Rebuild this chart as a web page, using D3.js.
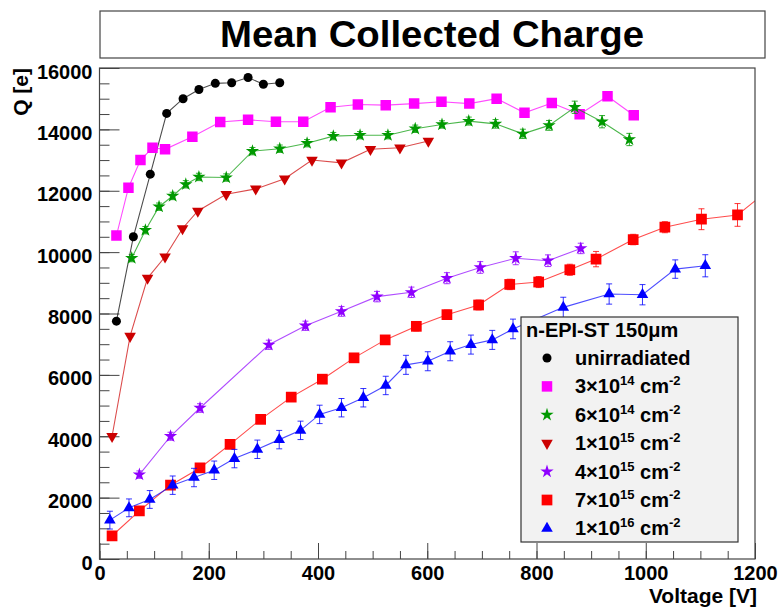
<!DOCTYPE html>
<html lang="en">
<head>
  <meta charset="UTF-8">
  <title>Mean Collected Charge</title>
  <style>
    body { margin: 0; background: #fff; }
    text { font-family: "Liberation Sans", Arial, sans-serif; font-weight: bold; fill: #000; }
  </style>
</head>
<body>
  <script src="https://d3js.org/d3.v7.min.js"></script>
  <script>
    // Data (voltage in V, charge in electrons)
    const voltUnirr = [31, 62, 93, 123, 153, 182, 212, 242, 272, 300, 330];
    const qUnirr = [7750, 10500, 12540, 14520, 15000, 15300, 15500, 15520, 15690, 15470, 15520];

    const volt3e14 = [31, 53, 75, 97, 120, 170, 221, 272, 323, 373, 423, 473, 524, 576, 626, 677, 727, 778, 828, 879, 930, 978];
    const q3e14 = [10540, 12100, 13000, 13400, 13350, 13760, 14240, 14310, 14250, 14250, 14720, 14810, 14790, 14840, 14900, 14840, 15000, 14540, 14860, 14490, 15080, 14460];
    const err3e14 = [100, 100, 100, 100, 100, 100, 100, 100, 100, 100, 100, 100, 100, 100, 100, 100, 100, 100, 100, 120, 120, 120];

    const volt6e14 = [59, 84, 109, 134, 158, 182, 232, 280, 330, 380, 428, 477, 528, 578, 627, 676, 725, 775, 823, 870, 920, 970];
    const q6e14 = [9805, 10715, 11480, 11830, 12210, 12450, 12430, 13290, 13370, 13550, 13780, 13810, 13810, 14020, 14160, 14270, 14180, 13855, 14130, 14720, 14250, 13670];
    const err6e14 = [120, 120, 120, 120, 120, 120, 120, 120, 120, 120, 120, 120, 120, 120, 120, 130, 140, 150, 160, 200, 200, 200];

    const volt1e15 = [23, 56, 88, 120, 152, 180, 232, 286, 339, 389, 443, 496, 550, 602];
    const q1e15 = [4000, 7260, 9155, 9850, 10770, 11340, 11885, 12060, 12390, 13000, 12910, 13350, 13400, 13620];

    const volt4e15 = [73, 130, 184, 310, 377, 443, 508, 571, 636, 697, 762, 821, 881];
    const q4e15 = [2750, 4000, 4920, 6980, 7600, 8070, 8550, 8690, 9150, 9500, 9800, 9720, 10120];
    const err4e15 = [120, 130, 140, 150, 150, 160, 170, 170, 180, 190, 210, 190, 170];

    const volt7e15 = [23, 73, 130, 184, 239, 295, 351, 408, 466, 523, 580, 636, 694, 751, 804, 861, 909, 977, 1035, 1102, 1168, 1230];
    const q7e15 = [757, 1570, 2405, 2967, 3737, 4550, 5275, 5860, 6555, 7140, 7582, 7962, 8277, 8947, 9025, 9425, 9772, 10410, 10812, 11072, 11212, 12100];
    const err7e15 = [100, 100, 110, 110, 120, 120, 130, 130, 140, 140, 150, 150, 160, 170, 180, 180, 250, 170, 180, 340, 370, 380];

    const volt1e16 = [19, 54, 92, 134, 173, 210, 247, 289, 329, 368, 403, 443, 483, 524, 561, 601, 642, 680, 719, 757, 849, 933, 994, 1054, 1109];
    const q1e16 = [1267, 1667, 1940, 2405, 2655, 2892, 3272, 3575, 3890, 4192, 4712, 4930, 5255, 5655, 6327, 6444, 6770, 6987, 7140, 7497, 8200, 8635, 8612, 9447, 9555];
    const err1e16 = [290, 290, 290, 300, 300, 300, 300, 300, 300, 300, 300, 300, 300, 300, 310, 310, 310, 310, 310, 320, 330, 330, 330, 300, 360];

    const legendTitle = "n-EPI-ST 150\u03bcm";
    const xTicks = [0, 200, 400, 600, 800, 1000, 1200];
    const yTicks = [0, 2000, 4000, 6000, 8000, 10000, 12000, 14000, 16000];

    // Series table built from the arrays above
    const series = [
      { name: "unirradiated", base: null, exp: null, v: voltUnirr, q: qUnirr, e: null, color: "#000000", shape: d3.symbolCircle, size: 64, rot: 0 },
      { name: null, base: "3\u00d710", exp: "14", v: volt3e14, q: q3e14, e: err3e14, color: "#ff00ff", shape: d3.symbolSquare, size: 110, rot: 0 },
      { name: null, base: "6\u00d710", exp: "14", v: volt6e14, q: q6e14, e: err6e14, color: "#009900", shape: d3.symbolStar, size: 55, rot: 0 },
      { name: null, base: "1\u00d710", exp: "15", v: volt1e15, q: q1e15, e: null, color: "#cc0000", shape: d3.symbolTriangle, size: 58, rot: 180 },
      { name: null, base: "4\u00d710", exp: "15", v: volt4e15, q: q4e15, e: err4e15, color: "#8f00ff", shape: d3.symbolStar, size: 55, rot: 0 },
      { name: null, base: "7\u00d710", exp: "15", v: volt7e15, q: q7e15, e: err7e15, color: "#ff0000", shape: d3.symbolSquare, size: 115, rot: 0 },
      { name: null, base: "1\u00d710", exp: "16", v: volt1e16, q: q1e16, e: err1e16, color: "#0000ff", shape: d3.symbolTriangle, size: 58, rot: 0 }
    ];

    let svgWidth = 781;
    let svgHeight = 609;
    let frame = { left: 99.5, right: 755, top: 68, bottom: 559 };

    let svg = d3.select("body")
      .append("svg")
      .attr("width", svgWidth)
      .attr("height", svgHeight);

    let x = d3.scaleLinear().domain([0, 1200]).range([frame.left, frame.right]);
    let y = d3.scaleLinear().domain([0, 16000]).range([frame.bottom, frame.top]);

    // Title box
    svg.append("rect")
      .attr("x", 100).attr("y", 11)
      .attr("width", 665).attr("height", 47)
      .attr("fill", "#fff").attr("stroke", "#444").attr("stroke-width", 1.2);
    svg.append("text")
      .attr("x", 432).attr("y", 47)
      .attr("text-anchor", "middle")
      .style("font-size", "36px")
      .attr("textLength", 424)
      .attr("lengthAdjust", "spacingAndGlyphs")
      .text("Mean Collected Charge");

    // Clip to frame
    svg.append("clipPath").attr("id", "frameClip")
      .append("rect")
      .attr("x", frame.left).attr("y", frame.top)
      .attr("width", frame.right - frame.left).attr("height", frame.bottom - frame.top);

    // Axes: ticks drawn inside the frame
    let yMinor = d3.range(0, 16001, 500);
    svg.append("g")
      .attr("transform", `translate(${frame.left},0)`)
      .call(d3.axisLeft(y).tickValues(yMinor).tickSize(-10).tickFormat(""))
      .call(g => g.select(".domain").remove())
      .call(g => g.selectAll("line").attr("stroke", "#444"));
    let yAxis = svg.append("g")
      .attr("transform", `translate(${frame.left},0)`)
      .call(d3.axisLeft(y).tickValues(yTicks).tickSize(-20).tickPadding(7).tickFormat(d3.format("d")))
      .call(g => g.select(".domain").remove())
      .call(g => g.selectAll("line").attr("stroke", "#444"));
    yAxis.selectAll("text")
      .attr("font-family", null).attr("font-size", null)
      .style("font-size", "20px")
      .attr("dy", "0.5em");

    let xMinor = d3.range(0, 1201, 50);
    svg.append("g")
      .attr("transform", `translate(0,${frame.bottom})`)
      .call(d3.axisBottom(x).tickValues(xMinor).tickSize(-8).tickFormat(""))
      .call(g => g.select(".domain").remove())
      .call(g => g.selectAll("line").attr("stroke", "#444"));
    let xAxis = svg.append("g")
      .attr("transform", `translate(0,${frame.bottom})`)
      .call(d3.axisBottom(x).tickValues(xTicks).tickSize(-16).tickPadding(7).tickFormat(d3.format("d")))
      .call(g => g.select(".domain").remove())
      .call(g => g.selectAll("line").attr("stroke", "#444"));
    xAxis.selectAll("text")
      .attr("font-family", null).attr("font-size", null)
      .style("font-size", "20px");

    // Axis titles
    svg.append("text")
      .attr("x", 757).attr("y", 603)
      .attr("text-anchor", "end")
      .style("font-size", "21px")
      .text("Voltage [V]");
    svg.append("text")
      .attr("transform", "translate(28,68) rotate(-90)")
      .attr("text-anchor", "end")
      .style("font-size", "21px")
      .text("Q [e]");

    // Data
    let plot = svg.append("g").attr("clip-path", "url(#frameClip)");
    let line = d3.line().x(d => x(d[0])).y(d => y(d[1]));

    series.forEach(s => {
      let pts = s.v.map((v, i) => [v, s.q[i], s.e ? s.e[i] : 0]);
      let g = plot.append("g");

      g.append("path")
        .attr("d", line(pts))
        .attr("fill", "none")
        .attr("stroke", s.color)
        .attr("stroke-opacity", 0.7)
        .attr("stroke-width", 1.1);

      if (s.e) {
        let eb = g.selectAll(".err").data(pts).enter().append("g")
          .attr("stroke", s.color).attr("stroke-opacity", 0.8).attr("stroke-width", 1);
        eb.append("line")
          .attr("x1", d => x(d[0])).attr("x2", d => x(d[0]))
          .attr("y1", d => y(d[1] - d[2])).attr("y2", d => y(d[1] + d[2]));
        eb.append("line")
          .attr("x1", d => x(d[0]) - 3).attr("x2", d => x(d[0]) + 3)
          .attr("y1", d => y(d[1] - d[2])).attr("y2", d => y(d[1] - d[2]));
        eb.append("line")
          .attr("x1", d => x(d[0]) - 3).attr("x2", d => x(d[0]) + 3)
          .attr("y1", d => y(d[1] + d[2])).attr("y2", d => y(d[1] + d[2]));
      }

      g.selectAll(".pt").data(pts).enter().append("path")
        .attr("d", d3.symbol().type(s.shape).size(s.size))
        .attr("transform", d => `translate(${x(d[0])},${y(d[1])}) rotate(${s.rot})`)
        .attr("fill", s.color);
    });

    // Frame
    svg.append("rect")
      .attr("x", frame.left).attr("y", frame.top)
      .attr("width", frame.right - frame.left).attr("height", frame.bottom - frame.top)
      .attr("fill", "none").attr("stroke", "#444").attr("stroke-width", 1.2);

    // Legend
    let legend = svg.append("g");
    legend.append("rect")
      .attr("x", 521).attr("y", 317)
      .attr("width", 217).attr("height", 225)
      .attr("fill", "#f2f2f2").attr("stroke", "#333").attr("stroke-width", 1.2);
    legend.append("text")
      .attr("x", 526).attr("y", 337)
      .style("font-size", "20px")
      .text(legendTitle);

    let rows = legend.selectAll(".entry").data(series).enter().append("g")
      .attr("transform", (d, i) => `translate(0,${358 + i * 28.4})`);
    rows.append("path")
      .attr("d", d => d3.symbol().type(d.shape).size(d.size)())
      .attr("transform", d => `translate(547,0) rotate(${d.rot})`)
      .attr("fill", d => d.color);
    let label = rows.append("text")
      .attr("x", 575).attr("y", 7)
      .style("font-size", "20px");
    label.each(function(d) {
      let t = d3.select(this);
      if (d.name) { t.text(d.name); return; }
      t.append("tspan").text(d.base);
      t.append("tspan").attr("dy", -8).style("font-size", "13px").text(d.exp);
      t.append("tspan").attr("dy", 8).text(" cm");
      t.append("tspan").attr("dy", -8).style("font-size", "13px").text("-2");
    });
  </script>
</body>
</html>
